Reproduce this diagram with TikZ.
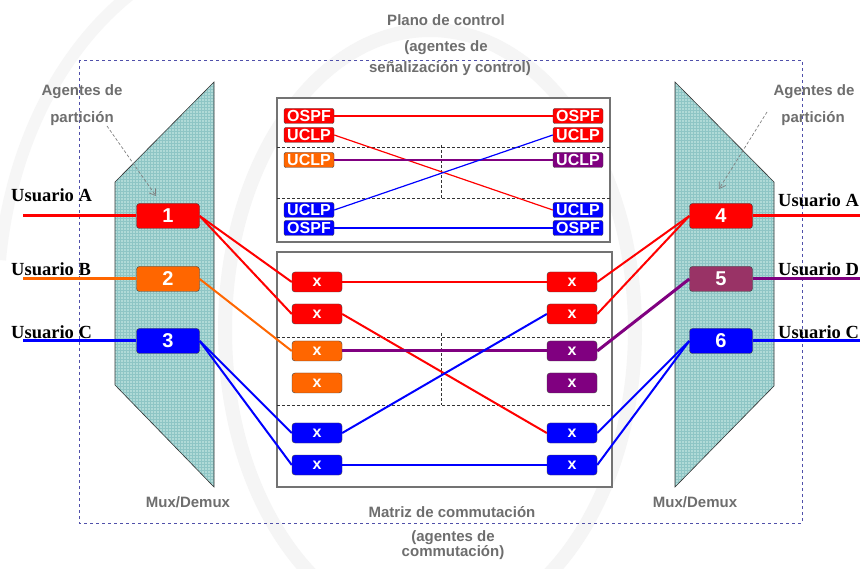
\documentclass[tikz,border=0pt]{standalone}
\usepackage{fontspec}
\setmainfont{Liberation Sans}
\newfontfamily\serifbf{Liberation Serif}
\usetikzlibrary{patterns,arrows.meta}
\definecolor{cred}{RGB}{255,0,0}
\definecolor{corange}{RGB}{255,102,0}
\definecolor{cblue}{RGB}{0,0,255}
\definecolor{cpurple}{RGB}{128,0,128}
\definecolor{cmaroon}{RGB}{153,51,102}
\definecolor{lblgray}{RGB}{110,110,110}
\definecolor{muxfill}{RGB}{176,218,215}
\definecolor{muxgrid}{RGB}{50,150,150}
\definecolor{frameblue}{RGB}{80,80,170}
\begin{document}
\begin{tikzpicture}[x=1pt,y=-1pt,
  portbox/.style={draw=black!75, rounded corners=3pt, minimum width=63pt, minimum height=25pt, inner sep=0pt, text=white, font=\fontsize{20}{20}\selectfont\bfseries},
  protobox/.style={draw=black!75, rounded corners=2pt, minimum width=50pt, minimum height=15pt, inner sep=0pt, text=white, font=\fontsize{16}{16}\selectfont\bfseries},
  xbox/.style={draw=black!75, rounded corners=3pt, minimum width=50pt, minimum height=20pt, inner sep=0pt, text=white, font=\fontsize{16}{16}\selectfont\bfseries},
  graylbl/.style={text=lblgray, font=\fontsize{15}{15}\selectfont\bfseries, inner sep=0pt},
  userlbl/.style={font=\serifbf\fontsize{18.5}{18.5}\selectfont\bfseries, anchor=base west, inner sep=0pt},
  link/.style={line width=2pt},
  thin link/.style={line width=1.2pt},
  user link/.style={line width=3pt},
  muxshape/.style={fill=muxfill},
  muxgridstyle/.style={pattern=grid, pattern color=muxgrid!55},
  sep line/.style={black!80, dashed, dash pattern=on 3pt off 2pt, line width=0.7pt},
  hint/.style={gray, dashed, dash pattern=on 3pt off 2pt, line width=0.7pt, -{Straight Barb[length=6pt,width=8pt]}}
]
\useasboundingbox (0,0) rectangle (860,569);
\fill[white] (0,0) rectangle (860,569);
% faint watermark arcs
\draw[gray!8, line width=14pt] (430,330) ellipse [x radius=205, y radius=300];
\draw[gray!7, line width=12pt] (150,-20) .. controls (60,40) and (10,150) .. (0,260);

% outer dashed frame
\draw[frameblue, dashed, dash pattern=on 3pt off 3pt, line width=0.8pt] (79,60) rectangle (802,523);

% mux shapes
\path[muxshape] (115,182) -- (214,82) -- (214,487) -- (115,385) -- cycle;
\path[muxgridstyle] (115,182) -- (214,82) -- (214,487) -- (115,385) -- cycle;
\draw[black!80, line width=0.6pt] (115,182) -- (214,82) -- (214,487) -- (115,385) -- cycle;
\path[muxshape] (675,82) -- (774,182) -- (774,386) -- (675,487) -- cycle;
\path[muxgridstyle] (675,82) -- (774,182) -- (774,386) -- (675,487) -- cycle;
\draw[black!80, line width=0.6pt] (675,82) -- (774,182) -- (774,386) -- (675,487) -- cycle;

% control plane box
\draw[black!55, line width=1.5pt, fill=white] (277,98) rectangle (610,242);
\draw[sep line] (277,147) -- (610,147);
\draw[sep line] (277,198) -- (610,198);
\draw[sep line] (441,145) -- (441,198);

% switching matrix box
\draw[black!55, line width=1.5pt, fill=white] (277,252) rectangle (612,487);
\draw[sep line] (277,337) -- (612,337);
\draw[sep line] (277,405) -- (612,405);
\draw[sep line] (441,333) -- (441,405);

% port boxes
\node[portbox, fill=cred]    (p1) at (168,216) {1};
\node[portbox, fill=corange] (p2) at (168,279) {2};
\node[portbox, fill=cblue]   (p3) at (168,341) {3};
\node[portbox, fill=cred]    (p4) at (721,216) {4};
\node[portbox, fill=cmaroon] (p5) at (721,279) {5};
\node[portbox, fill=cblue]   (p6) at (721,341) {6};

% user endpoints
\coordinate (uA) at (23,216);
\coordinate (uB) at (23,279);
\coordinate (uC) at (23,341);
\coordinate (vA) at (860,216);
\coordinate (vD) at (860,279);
\coordinate (vC) at (860,341);
\draw[user link, cred]    (uA) -- (p1.west);
\draw[user link, corange] (uB) -- (p2.west);
\draw[user link, cblue]   (uC) -- (p3.west);
\draw[user link, cred]    (p4.east) -- (vA);
\draw[user link, cpurple] (p5.east) -- (vD);
\draw[user link, cblue]   (p6.east) -- (vC);

\node[userlbl] (ulA) at (11,202) {Usuario A};
\node[userlbl] (ulB) at (11,276) {Usuario B};
\node[userlbl] (ulC) at (11,339) {Usuario C};
\node[userlbl] (urA) at (778,207) {Usuario A};
\node[userlbl] (urD) at (778,276) {Usuario D};
\node[userlbl] (urC) at (778,339) {Usuario C};

% protocol boxes
\node[protobox, fill=cred]    (cL1) at (309,116) {OSPF};
\node[protobox, fill=cred]    (cL2) at (309,135) {UCLP};
\node[protobox, fill=corange] (cL3) at (309,160) {UCLP};
\node[protobox, fill=cblue]   (cL4) at (309,210) {UCLP};
\node[protobox, fill=cblue]   (cL5) at (309,228) {OSPF};
\node[protobox, fill=cred]    (cR1) at (578,116) {OSPF};
\node[protobox, fill=cred]    (cR2) at (578,135) {UCLP};
\node[protobox, fill=cpurple] (cR3) at (578,160) {UCLP};
\node[protobox, fill=cblue]   (cR4) at (578,210) {UCLP};
\node[protobox, fill=cblue]   (cR5) at (578,228) {OSPF};
\draw[thin link, cred]    (cL1.east) -- (cR1.west);
\draw[thin link, cred]    (cL2.east) -- (cR4.west);
\draw[thin link, cpurple] (cL3.east) -- (cR3.west);
\draw[thin link, cblue]   (cL4.east) -- (cR2.west);
\draw[thin link, cblue]   (cL5.east) -- (cR5.west);

% cross-connect boxes
\node[xbox, fill=cred]    (xL1) at (317,282) {x};
\node[xbox, fill=cred]    (xL2) at (317,314) {x};
\node[xbox, fill=corange] (xL3) at (317,351) {x};
\node[xbox, fill=corange] (xL4) at (317,383) {x};
\node[xbox, fill=cblue]   (xL5) at (317,433) {x};
\node[xbox, fill=cblue]   (xL6) at (317,465) {x};
\node[xbox, fill=cred]    (xR1) at (572,282) {x};
\node[xbox, fill=cred]    (xR2) at (572,314) {x};
\node[xbox, fill=cpurple] (xR3) at (572,351) {x};
\node[xbox, fill=cpurple] (xR4) at (572,383) {x};
\node[xbox, fill=cblue]   (xR5) at (572,433) {x};
\node[xbox, fill=cblue]   (xR6) at (572,465) {x};

\draw[link, cred]    (xL1.east) -- (xR1.west);
\draw[link, cred]    (xL2.east) -- (xR5.west);
\draw[line width=3pt, cpurple] (xL3.east) -- (xR3.west);
\draw[link, cblue]   (xL5.east) -- (xR2.west);
\draw[link, cblue]   (xL6.east) -- (xR6.west);

\draw[link, cred]    (p1.east) -- (xL1.west);
\draw[link, cred]    (p1.east) -- (xL2.west);
\draw[link, corange] (p2.east) -- (xL3.west);
\draw[link, cblue]   (p3.east) -- (xL5.west);
\draw[link, cblue]   (p3.east) -- (xL6.west);
\draw[link, cred]    (xR1.east) -- (p4.west);
\draw[link, cred]    (xR2.east) -- (p4.west);
\draw[line width=3pt, cpurple] (xR3.east) -- (p5.west);
\draw[link, cblue]   (xR5.east) -- (p6.west);
\draw[link, cblue]   (xR6.east) -- (p6.west);

% gray labels
\node[graylbl] (t1) at (446,20) {Plano de control};
\node[graylbl] (t2) at (446,48) {(agentes de};
\node[graylbl] (t3) at (450,69) {señalización y control)};
\node[graylbl] (t4) at (452,512) {Matriz de commutación};
\node[graylbl] (t5) at (453,538) {(agentes de};
\node[graylbl] (t6) at (453,553) {commutación)};
\node[graylbl] (m1) at (188,502) {Mux/Demux};
\node[graylbl] (m2) at (695,502) {Mux/Demux};
\node[graylbl] (a1) at (82,92) {Agentes de};
\node[graylbl] (a2) at (82,119) {partición};
\node[graylbl] (a3) at (814,92) {Agentes de};
\node[graylbl] (a4) at (813,119) {partición};

\coordinate (h1s) at (107,126);
\coordinate (h1e) at (156,196);
\coordinate (h2s) at (767,112);
\coordinate (h2e) at (719,189);
\draw[hint] (h1s) -- (h1e);
\draw[hint] (h2s) -- (h2e);
\end{tikzpicture}
\end{document}
